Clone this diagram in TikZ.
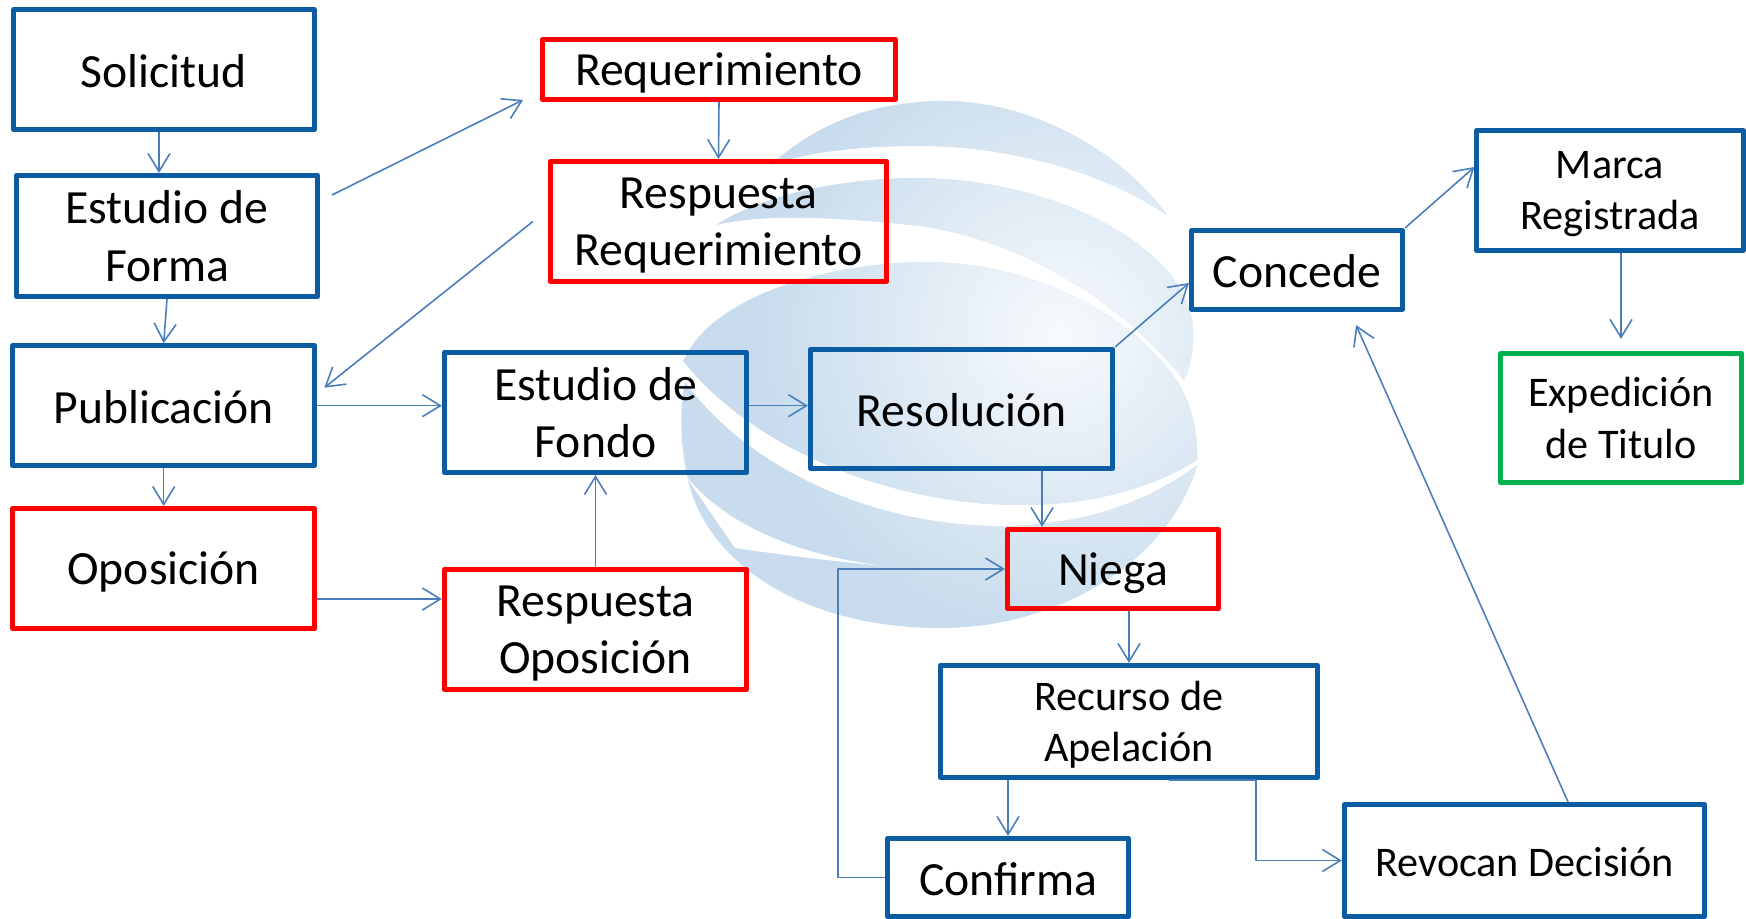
\documentclass[tikz,border=0pt]{standalone}
\usepackage{fontspec}
\setmainfont{Carlito}
\usetikzlibrary{arrows.meta,calc}
\definecolor{boxblue}{RGB}{12,92,164}
\definecolor{boxred}{RGB}{255,0,0}
\definecolor{boxgreen}{RGB}{0,176,80}
\definecolor{linkblue}{RGB}{74,126,187}
\definecolor{globe}{RGB}{200,220,237}

\begin{document}
\begin{tikzpicture}[x=0.01cm,y=-0.01cm,line join=round]
\tikzset{box/.style={draw=boxblue,line width=0.05cm,inner sep=0pt,align=center,
    font=\fontsize{13.55}{16.3}\selectfont},
  one/.style={execute at begin node={\rule[-0.11em]{0pt}{0.96em}}},
  two/.style={text depth=-0.04em},
  redbox/.style={box,draw=boxred},
  greenbox/.style={box,draw=boxgreen},
  small/.style={font=\fontsize{12}{14.6}\selectfont},
  conn/.style={draw=linkblue,line width=0.45pt,-{Straight Barb[length=1.8mm,width=2.2mm]}}}
\useasboundingbox (0,0) rectangle (1746,919);
\begin{scope}
\clip (770,165) .. controls (820,122) and (870,103) .. (940,101) .. controls (1030,100) and (1120,150) .. (1167,215)
  .. controls (1100,170) and (1010,148) .. (930,146) .. controls (860,145) and (810,152) .. (770,165) -- cycle
  (716,225) .. controls (760,196) and (840,178) .. (920,178) .. controls (1060,180) and (1190,250) .. (1193,330)
  .. controls (1194,350) and (1190,368) .. (1184,380) .. controls (1120,300) and (1020,240) .. (920,226)
  .. controls (820,215) and (760,215) .. (716,225) -- cycle
  (688,352) .. controls (720,295) and (830,262) .. (930,262) .. controls (1040,264) and (1140,320) .. (1180,386)
  .. controls (1194,410) and (1198,440) .. (1197,460) .. controls (1050,552) and (790,495) .. (683,361) -- cycle
  (685,382) .. controls (790,525) and (1050,578) .. (1197,465) .. controls (1170,560) and (1060,628) .. (940,628)
  .. controls (800,628) and (700,560) .. (686,470) .. controls (680,440) and (680,405) .. (685,382) -- cycle;
\fill[globe] (650,90) rectangle (1220,640);
\shade[inner color=globe!15,outer color=globe] (1060,335) circle (3cm);
\end{scope}
\fill[white] (680,468) .. controls (720,525) and (800,556) .. (885,566) .. controls (820,560) and (770,553) .. (735,548) -- cycle;

\node[box,one,minimum width=3.00cm,minimum height=1.20cm] (sol) at (164,69.7) {Solicitud};
\node[box,two,minimum width=3.01cm,minimum height=1.21cm] (ef) at (167,236) {Estudio de\\Forma};
\node[box,one,minimum width=3.02cm,minimum height=1.20cm] (pub) at (163.7,405.7) {Publicación};
\node[redbox,one,minimum width=3.02cm,minimum height=1.20cm] (opos) at (163.7,568.5) {Oposición};
\node[redbox,one,minimum width=3.53cm,minimum height=0.60cm] (req) at (719,69.5) {Requerimiento};
\node[redbox,two,minimum width=3.36cm,minimum height=1.20cm] (rreq) at (718.5,221.5) {Respuesta\\Requerimiento};
\node[box,two,minimum width=3.02cm,minimum height=1.20cm] (fondo) at (595.5,412.5) {Estudio de\\Fondo};
\node[redbox,two,minimum width=3.02cm,minimum height=1.20cm] (ropos) at (595.5,629.5) {Respuesta\\Oposición};
\node[box,one,minimum width=3.02cm,minimum height=1.19cm] (res) at (961.5,409) {Resolución};
\node[box,one,minimum width=2.11cm,minimum height=0.79cm] (conc) at (1297,270) {Concede};
\node[box,two,small,minimum width=2.66cm,minimum height=1.20cm] (marca) at (1610,190.5) {Marca\\Registrada};
\node[greenbox,two,small,minimum width=2.41cm,minimum height=1.29cm] (exp) at (1621,418) {Expedición\\de Titulo};
\node[redbox,one,minimum width=2.11cm,minimum height=0.79cm] (niega) at (1113,569) {Niega};
\node[box,two,small,minimum width=3.77cm,minimum height=1.12cm] (rec) at (1129,721.5) {Recurso de\\Apelación};
\node[box,one,minimum width=2.41cm,minimum height=0.78cm] (conf) at (1008,877.5) {Confirma};
\node[box,one,small,minimum width=3.60cm,minimum height=1.12cm] (rev) at (1524.5,860.5) {Revocan Decisión};

\coordinate (fa) at (332,195);
\coordinate (fb) at (523,100);
\draw[conn] ([xshift=-0.05cm]sol.south) -- ([xshift=-0.05cm]sol.south |- ef.north);
\draw[conn] (ef.south) -- (pub.north);
\draw[conn] (pub.south) -- (opos.north);
\draw[conn] (fa) -- (fb);
\draw[conn] ([xshift=-0.15cm]rreq.west) -- ([xshift=0.07cm,yshift=0.18cm]pub.east);
\draw[conn] (req.south) -- (rreq.north);
\draw[conn] (pub.east) -- (pub.east -| fondo.west);
\draw[conn] (fondo.east |- pub.east) -- (res.west |- pub.east);
\draw[conn] ([yshift=-0.305cm]opos.east) -- ([yshift=-0.305cm]opos.east -| ropos.west);
\draw[conn] (ropos.north) -- (fondo.south);
\draw[conn] ([xshift=0.805cm]res.south) -- ([xshift=0.805cm]res.south |- niega.north);
\draw[conn] (res.north east) -- ([yshift=-0.13cm]conc.west);
\draw[conn] (conc.north east) -- ([yshift=0.235cm]marca.west);
\draw[conn,shorten >=0.12cm] (exp.north |- marca.south) -- (exp.north);
\draw[conn] ([xshift=0.435cm]rev.north) -- ([xshift=0.59cm,yshift=-0.13cm]conc.south);
\draw[conn] (rec.north |- niega.south) -- (rec.north);
\draw[conn] (conf.north |- rec.south) -- (conf.north);
\draw[conn] ([xshift=0.4cm]rec.south) -- ([xshift=1.27cm]rec.south) |- (rev.west);
\draw[conn] (conf.west) -- ++(-47,0) |- (niega.west);
\end{tikzpicture}
\end{document}
